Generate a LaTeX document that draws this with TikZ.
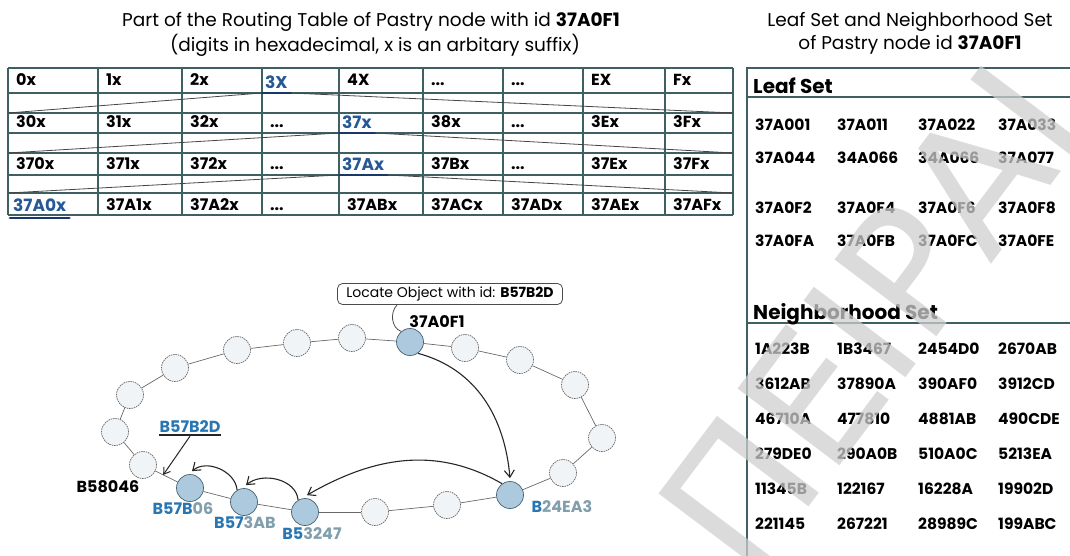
\documentclass[tikz,border=0pt]{standalone}
\usepackage{fontspec}
\setmainfont{Poppins}
\newfontfamily\wmfont{DejaVu Sans}
\usepackage{tikz}
\usetikzlibrary{arrows.meta, positioning, calc}

\definecolor{tableline}{RGB}{62,96,98}
\definecolor{hitblue}{RGB}{38,88,150}
\definecolor{hitnavy}{RGB}{24,56,108}
\definecolor{ringblue}{RGB}{40,118,178}
\definecolor{ringgray}{RGB}{128,158,172}
\definecolor{ringfill}{RGB}{240,244,247}
\definecolor{ringedge}{RGB}{105,105,105}
\definecolor{hopfill}{RGB}{172,201,221}
\definecolor{hopedge}{RGB}{72,98,116}

\newcommand{\hexdots}{...}

\tikzset{
  titletext/.style={
    font=\fontsize{18.5}{18.5}\selectfont, inner sep=0pt
  },
  gridline/.style={
    draw=tableline, line width=1.2pt
  },
  fanline/.style={
    draw=gray!55!black, line width=0.8pt
  },
  cellid/.style={
    anchor=base west, inner sep=0pt,
    font=\bfseries\fontsize{16}{16}\selectfont
  },
  hitid/.style={
    anchor=south west, inner xsep=3pt, inner ysep=4pt, text depth=0pt,
    text=hitblue, font=\bfseries\fontsize{17}{17}\selectfont
  },
  hitbar/.style={
    draw=hitnavy, line width=2.8pt, line cap=round
  },
  sethead/.style={
    anchor=base west, inner sep=0pt,
    font=\bfseries\fontsize{20}{20}\selectfont
  },
  setid/.style={
    anchor=base west, inner sep=0pt,
    font=\bfseries\fontsize{15.5}{15.5}\selectfont
  },
  ringnode/.style={
    circle, minimum size=27pt, inner sep=0pt, draw=ringedge,
    dash pattern=on 1.6pt off 0.8pt, fill=ringfill, line width=0.7pt
  },
  hopnode/.style={
    ringnode, solid, fill=hopfill, draw=hopedge
  },
  ringlink/.style={
    draw=ringedge, line width=0.7pt
  },
  hoparrow/.style={
    -{Straight Barb[length=7pt,width=10pt]}, line width=1.1pt, black!85
  },
  ringid/.style={
    font=\bfseries\fontsize{16}{16}\selectfont, inner sep=0pt
  },
  callout/.style={
    draw=gray!60!black, rounded corners=5pt, fill=white, thick,
    minimum width=225pt, minimum height=21pt, inner sep=2pt,
    font=\fontsize{14}{14}\selectfont
  },
  watermark/.style={
    font=\wmfont\fontsize{175}{175}\selectfont, text=black!19,
    opacity=0.74, inner sep=0pt
  },
}

\begin{document}
\begin{tikzpicture}[x=1pt, y=1pt]
  \useasboundingbox (0,0) rectangle (1070,-556);

  % ---- TITLES ----
  \node[titletext] (rtitle) at (371,-22)
    {Part of the Routing Table of Pastry node with id \textbf{37A0F1}};
  \node[titletext] (rsub) at (375,-45)
    {(digits in hexadecimal, x is an arbitary suffix)};
  \node[titletext] (stitle) at (910,-22) {Leaf Set and Neighborhood Set};
  \node[titletext] (ssub) at (910,-45) {of Pastry node id \textbf{37A0F1}};

  % ---- ROUTING TABLE ----
  \foreach \y in {68,93,113,133,153,175,193,215}
    \draw[gridline] (8,-\y) -- (733,-\y);
  \foreach \x in {8,98,182,262,339,423,503,583,665,733}
    \draw[gridline] (\x,-68) -- (\x,-215);

  % row 1
  \foreach \c/\x/\t in {1/8/0x, 2/98/1x, 3/182/2x, 5/339/4X, 6/423/\hexdots, 7/503/\hexdots, 8/583/EX, 9/665/Fx}
    \node[cellid] (ra-\c) at (\x+8,-86) {\t};
  \node[hitid] (ha) at (262,-93) {3X};
  % row 2
  \foreach \c/\x/\t in {1/8/30x, 2/98/31x, 3/182/32x, 4/262/\hexdots, 6/423/38x, 7/503/\hexdots, 8/583/3Ex, 9/665/3Fx}
    \node[cellid] (rb-\c) at (\x+8,-128) {\t};
  \node[hitid] (hb) at (339,-133) {37x};
  % row 3
  \foreach \c/\x/\t in {1/8/370x, 2/98/371x, 3/182/372x, 4/262/\hexdots, 6/423/37Bx, 7/503/\hexdots, 8/583/37Ex, 9/665/37Fx}
    \node[cellid] (rc-\c) at (\x+8,-170) {\t};
  \node[hitid] (hc) at (339,-175) {37Ax};
  % row 4
  \foreach \c/\x/\t in {2/98/37A1x, 3/182/37A2x, 4/262/\hexdots, 5/339/37ABx, 6/423/37ACx, 7/503/37ADx, 8/583/37AEx, 9/665/37AFx}
    \node[cellid] (rd-\c) at (\x+8,-210) {\t};
  \node[hitid, inner ysep=6pt] (hd) at (10,-218) {37A0x};

  % underlines and fans
  \foreach \h in {ha,hb,hc,hd}
    \draw[hitbar] (\h.south west) -- (\h.south east);
  \coordinate (fa-l) at (8,-113);  \coordinate (fa-r) at (733,-113);
  \coordinate (fb-l) at (8,-153);  \coordinate (fb-r) at (733,-153);
  \coordinate (fc-l) at (8,-193);  \coordinate (fc-r) at (733,-193);
  \draw[fanline] (fa-l) -- (ha.south west) (ha.south east) -- (fa-r);
  \draw[fanline] (fb-l) -- (hb.south west) (hb.south east) -- (fb-r);
  \draw[fanline] (fc-l) -- (hc.south west) (hc.south east) -- (fc-r);

  % ---- LEAF SET / NEIGHBORHOOD SET ----
  \draw[gridline] (1070,-68) -- (747,-68) -- (747,-556);
  \draw[gridline] (747,-97) -- (1070,-97);
  \draw[gridline] (747,-323) -- (1070,-323);
  \node[sethead] (leafhead) at (753,-94) {Leaf Set};
  \node[sethead] (nbhead) at (753,-319) {Neighborhood Set};

  \foreach \r/\y/\a/\b/\c/\d in {1/131/37A001/37A011/37A022/37A033,
                                 2/164/37A044/34A066/34A066/37A077,
                                 3/214/37A0F2/37A0F4/37A0F6/37A0F8,
                                 4/246/37A0FA/37A0FB/37A0FC/37A0FE}{
    \node[setid] (leaf-\r-1) at (755,-\y) {\a};
    \node[setid] (leaf-\r-2) at (837,-\y) {\b};
    \node[setid] (leaf-\r-3) at (918,-\y) {\c};
    \node[setid] (leaf-\r-4) at (998,-\y) {\d};
  }
  \foreach \r/\y/\a/\b/\c/\d in {1/354/1A223B/1B3467/2454D0/2670AB,
                                 2/389/3612AB/37890A/390AF0/3912CD,
                                 3/424/46710A/477810/4881AB/490CDE,
                                 4/459/279DE0/290A0B/510A0C/5213EA,
                                 5/494/11345B/122167/16228A/19902D,
                                 6/529/221145/267221/28989C/199ABC}{
    \node[setid] (nb-\r-1) at (755,-\y) {\a};
    \node[setid] (nb-\r-2) at (837,-\y) {\b};
    \node[setid] (nb-\r-3) at (918,-\y) {\c};
    \node[setid] (nb-\r-4) at (998,-\y) {\d};
  }

  % ---- PASTRY RING ----
  \foreach \i/\x/\y/\s in {1/410/342/hopnode, 2/465/348/ringnode,
      3/520/360/ringnode, 4/575/385/ringnode, 5/602/438/ringnode,
      6/563/473/ringnode, 7/510/495/hopnode, 8/447/505/ringnode,
      9/375/512/ringnode, 10/305/512/hopnode, 11/244/502/hopnode,
      12/190/488/hopnode, 13/143/465/ringnode, 14/115/432/ringnode,
      15/130/395/ringnode, 16/175/368/ringnode, 17/237/350/ringnode,
      18/297/343/ringnode, 19/352/338/ringnode}
    \node[\s] (n\i) at (\x,-\y) {};
  \foreach \i [evaluate=\i as \j using {int(mod(\i,19)+1)}] in {1,...,19}
    \draw[ringlink] (n\i) -- (n\j);

  % labels
  \node[ringid] (id1) at (437,-322) {37A0F1};
  \node[ringid] (id13) at (108,-487) {B58046};
  \node[ringid, text=ringblue] (target) at (190,-427) {B57B2D};
  \draw[line width=1.4pt, black!85] ([yshift=-2pt]target.south west) -- ([yshift=-2pt]target.south east);
  \node[ringid] (id12) at (183,-509) {{\color{ringblue}B57B}{\color{ringgray}06}};
  \node[ringid] (id11) at (245,-523) {{\color{ringblue}B57}{\color{ringgray}3AB}};
  \node[ringid] (id10) at (312,-534) {{\color{ringblue}B5}{\color{ringgray}3247}};
  \node[ringid] (id7) at (562,-507) {{\color{ringblue}B}{\color{ringgray}24EA3}};

  % request
  \node[callout] (locate) at (450,-294) {Locate Object with id: \textbf{B57B2D}};
  \draw[gray!60!black, thick] ([xshift=60pt]locate.south west)
    to[out=-135, in=160] (n1.130);

  % routing hops
  \draw[hoparrow] (n1.-55) to[out=-15, in=95] ([yshift=3pt]n7.north);
  \draw[hoparrow] (n7.125) to[out=150, in=30] ([shift={(2pt,3pt)}]n10.north);
  \draw[hoparrow] (n10.120) to[out=95, in=40] ([shift={(2pt,3pt)}]n11.north);
  \draw[hoparrow] (n11.120) to[out=95, in=40] ([shift={(2pt,3pt)}]n12.north);
  \coordinate (gap) at ($(n13)!0.43!(n12)$);
  \draw[-{Straight Barb[length=6pt,width=8pt]}, line width=1pt, black!85]
    ([yshift=-3pt]target.south) -- (gap);

  % watermark
  \node[watermark, rotate=53, anchor=base west] (wm) at (750,-585) {ΠΕΙΡΑΙ};
\end{tikzpicture}
\end{document}
